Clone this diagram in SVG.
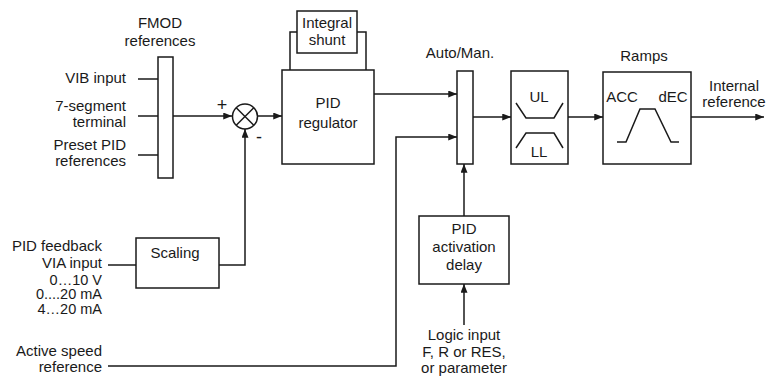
<svg xmlns="http://www.w3.org/2000/svg" width="767" height="376" viewBox="0 0 767 376">
<defs>
<marker id="ah" viewBox="0 0 10 8" refX="10" refY="4" markerWidth="10" markerHeight="7" markerUnits="userSpaceOnUse" orient="auto">
<path d="M0,0 L10,4 L0,8 Z" fill="#1a1a1a"/>
</marker>
<style>
.b{fill:#fff;stroke:#1a1a1a;stroke-width:1.5}
.l{fill:none;stroke:#1a1a1a;stroke-width:1.5}
.a{fill:none;stroke:#1a1a1a;stroke-width:1.5;marker-end:url(#ah)}
text{font-family:"Liberation Sans",Arial,sans-serif;font-size:15px;fill:#1a1a1a}
.m{text-anchor:middle}
.e{text-anchor:end}
.s{font-size:14.5px}
.g{font-size:18px}
</style>
</defs>
<rect width="767" height="376" fill="#fff"/>

<g id="connectors">
<line class="l" x1="138" y1="79" x2="158" y2="79"/>
<line class="l" x1="138" y1="116" x2="158" y2="116"/>
<line class="l" x1="138" y1="155" x2="158" y2="155"/>
<line class="a" x1="173" y1="116" x2="232" y2="116"/>
<line class="a" x1="257" y1="116" x2="282" y2="116"/>
<line class="l" x1="108" y1="265" x2="136" y2="265"/>
<polyline class="a" points="219,265 245,265 245,129"/>
<polyline class="l" points="290,70 290,32 297,32"/>
<polyline class="l" points="357,32 366,32 366,70"/>
<line class="a" x1="374" y1="94" x2="457" y2="94"/>
<polyline class="a" points="108,366 396,366 396,137 457,137"/>
<line class="a" x1="464" y1="216" x2="464" y2="164"/>
<line class="a" x1="464" y1="325" x2="464" y2="284"/>
<line class="a" x1="473" y1="117" x2="511" y2="117"/>
<line class="a" x1="568" y1="117" x2="603" y2="117"/>
<line class="a" x1="691" y1="117" x2="764" y2="117"/>
</g>

<g id="fmod">
<rect class="b" x="158" y="57" width="15" height="121"/>
<text class="m" x="160" y="28">FMOD</text>
<text class="m" x="160" y="46">references</text>
</g>

<g id="inputs">
<text class="e" x="126" y="83">VIB input</text>
<text class="e" x="126" y="111">7-segment</text>
<text class="e" x="126" y="127">terminal</text>
<text class="e" x="126" y="150">Preset PID</text>
<text class="e" x="126" y="166">references</text>
</g>

<g id="summer">
<circle class="b" cx="245" cy="116.5" r="12.5"/>
<line class="l" x1="236.2" y1="107.7" x2="253.8" y2="125.3"/>
<line class="l" x1="236.2" y1="125.3" x2="253.8" y2="107.7"/>
<text class="m g" x="222" y="111">+</text>
<text class="m g" x="259" y="143">-</text>
</g>

<g id="feedback">
<text class="e" x="102" y="251">PID feedback</text>
<text class="e" x="102" y="268">VIA input</text>
<text class="e s" x="102" y="284.5">0…10 V</text>
<text class="e s" x="102" y="299">0....20 mA</text>
<text class="e s" x="102" y="313.5">4…20 mA</text>
</g>

<g id="scaling">
<rect class="b" x="136" y="238" width="83" height="50"/>
<text class="m" x="175" y="258">Scaling</text>
</g>

<g id="active">
<text class="e" x="102" y="356">Active speed</text>
<text class="e" x="102" y="372">reference</text>
</g>

<g id="integral">
<rect class="b" x="297" y="11" width="60" height="42"/>
<text class="m" x="327" y="28">Integral</text>
<text class="m" x="327" y="45">shunt</text>
</g>

<g id="pid">
<rect class="b" x="282" y="70" width="92" height="94"/>
<text class="m" x="328" y="108">PID</text>
<text class="m" x="328" y="128">regulator</text>
</g>

<g id="automan">
<rect class="b" x="457" y="71" width="16" height="93"/>
<text class="m" x="460" y="58">Auto/Man.</text>
</g>

<g id="delay">
<rect class="b" x="419" y="216" width="90" height="68"/>
<text class="m" x="464" y="234">PID</text>
<text class="m" x="464" y="252">activation</text>
<text class="m" x="464" y="270">delay</text>
</g>

<g id="logic">
<text class="m" x="464" y="340">Logic input</text>
<text class="m" x="464" y="357">F, R or RES,</text>
<text class="m" x="464" y="373">or parameter</text>
</g>

<g id="limits">
<rect class="b" x="511" y="71" width="57" height="93"/>
<polyline class="l" points="516,103 526,118 554,118 563,103"/>
<polyline class="l" points="516,148 526,133 554,133 563,148"/>
<text class="m" x="539" y="102">UL</text>
<text class="m" x="539" y="157">LL</text>
</g>

<g id="ramps">
<rect class="b" x="603" y="72" width="88" height="92"/>
<polyline class="l" points="617,142 626,142 640,109 655,109 671,142 679,142"/>
<text class="m" x="622" y="102">ACC</text>
<text class="m" x="673" y="102">dEC</text>
<text class="m" x="644" y="61">Ramps</text>
</g>

<g id="output">
<text class="m" x="734" y="91">Internal</text>
<text class="m" x="734" y="107">reference</text>
</g>
</svg>
